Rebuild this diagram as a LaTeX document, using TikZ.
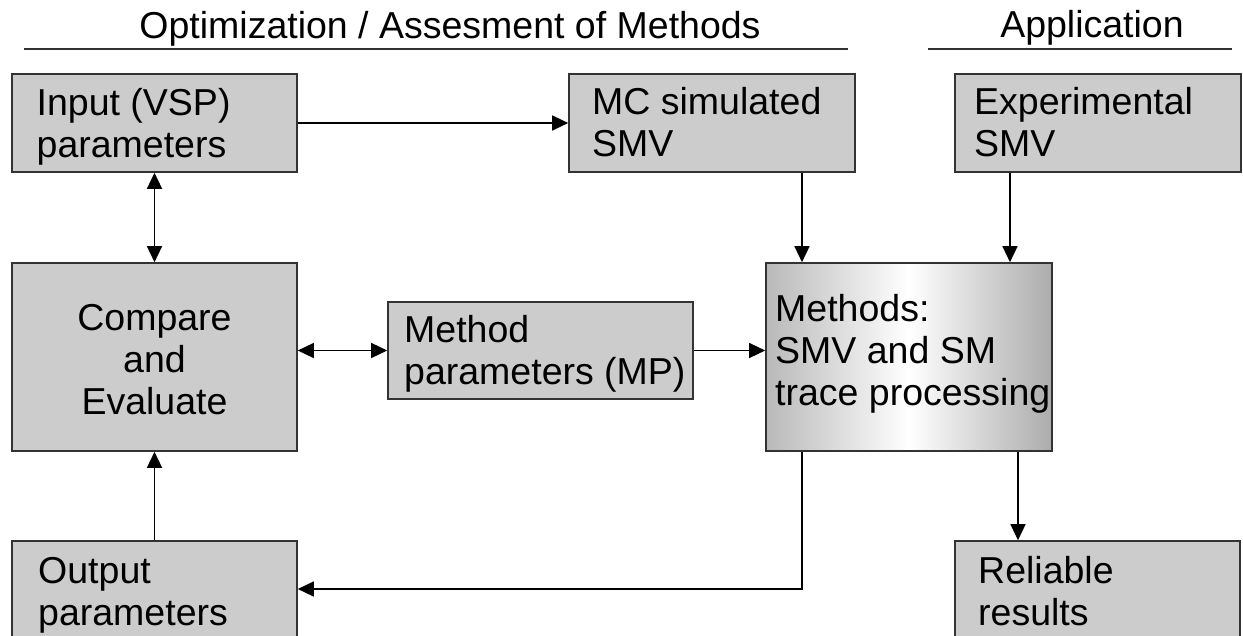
\documentclass[tikz,border=0pt]{standalone}
\usepackage{fontspec}
\setmainfont{Liberation Sans}
\usetikzlibrary{arrows.meta}
\definecolor{boxgray}{RGB}{204,204,204}
\definecolor{edgegray}{RGB}{51,51,51}
\definecolor{shadeL}{RGB}{185,185,185}
\definecolor{shadeR}{RGB}{172,172,172}
\tikzset{
  box/.style={draw=edgegray, line width=1.6pt, fill=boxgray, rectangle, inner sep=0pt},
  txt/.style={font=\fontsize{37.5pt}{42pt}\selectfont, inner sep=0pt, align=left, anchor=north west},
  ctxt/.style={font=\fontsize{37.5pt}{42pt}\selectfont, inner sep=0pt, align=center, anchor=north},
  ttl/.style={font=\fontsize{37.5pt}{42pt}\selectfont, inner sep=0pt, anchor=base},
  rule/.style={draw=edgegray, line width=1.5pt},
  arr/.style={-{Triangle[length=16pt,width=15pt]}, line width=1.4pt, black},
  darr/.style={{Triangle[length=16pt,width=15pt]}-{Triangle[length=16pt,width=15pt]}, line width=1.4pt, black},
}
\newcommand{\sk}{\strut}
\begin{document}
\begin{tikzpicture}[x=1pt,y=-1pt]
\useasboundingbox (0,0) rectangle (1243,636);
\clip (0,0) rectangle (1243,636);
% headings
\node[ttl] (t1) at (450,39) {Optimization / Assesment of Methods};
\node[ttl] (t2) at (1092,38) {Application};
\coordinate (r1a) at (24,49);
\coordinate (r1b) at (848,49);
\coordinate (r2a) at (928,49);
\coordinate (r2b) at (1232,49);
\draw[rule] (r1a) -- (r1b);
\draw[rule] (r2a) -- (r2b);
% boxes
\node[box, minimum width=285pt, minimum height=98pt] (inp) at (154.5,123) {};
\node[box, minimum width=286pt, minimum height=98pt] (mc) at (712,123) {};
\node[box, minimum width=286pt, minimum height=98pt] (exp) at (1098,123) {};
\node[box, minimum width=285pt, minimum height=188pt] (cmp) at (154.5,357) {};
\node[box, minimum width=305pt, minimum height=97pt] (mp) at (540.5,350.5) {};
\node[box, fill=none, minimum width=286pt, minimum height=188pt, left color=shadeL, right color=shadeR, middle color=white] (meth) at (909,357) {};
\node[box, minimum width=285pt, minimum height=118pt] (out) at (154.5,600) {};
\node[box, minimum width=285pt, minimum height=118pt] (rel) at (1097.5,600) {};
% texts (north = first baseline - 29.4)
\node[txt] (inpt) at (36.5,85.6) {\sk Input (VSP)\\\sk parameters};
\node[txt] (mct) at (592,85.1) {\sk MC simulated\\\sk SMV};
\node[txt] (expt) at (974,84.6) {\sk Experimental\\\sk SMV};
\node[ctxt] (cmpt) at (154.5,300.6) {\sk Compare\\\sk and\\\sk Evaluate};
\node[txt] (mpt) at (404,313.3) {\sk Method\\\sk parameters (MP)};
\node[txt] (metht) at (775,292.3) {\sk Methods:\\\sk SMV and SM\\\sk trace processing};
\node[txt] (outt) at (38,553.6) {\sk Output\\\sk parameters};
\node[txt] (relt) at (978,553.6) {\sk Reliable\\\sk results};
% connector helper coordinates
\coordinate (xa) at (802,0);
\coordinate (xb) at (1010,0);
\coordinate (xc) at (1018,0);
\coordinate (yb) at (0,589);
% connectors
\draw[arr] (inp.east) -- (mc.west);
\draw[darr] (inp.south) -- (cmp.north);
\draw[arr] (mc.south -| xa) -- (meth.north -| xa);
\draw[arr] (exp.south -| xb) -- (meth.north -| xb);
\draw[darr] (cmp.east |- mp.west) -- (mp.west);
\draw[arr] (mp.east) -- (meth.west |- mp.east);
\draw[arr] (meth.south -| xa) |- (out.east |- yb);
\draw[arr] (out.north) -- (cmp.south);
\draw[arr] (meth.south -| xc) -- (rel.north -| xc);
\end{tikzpicture}
\end{document}
